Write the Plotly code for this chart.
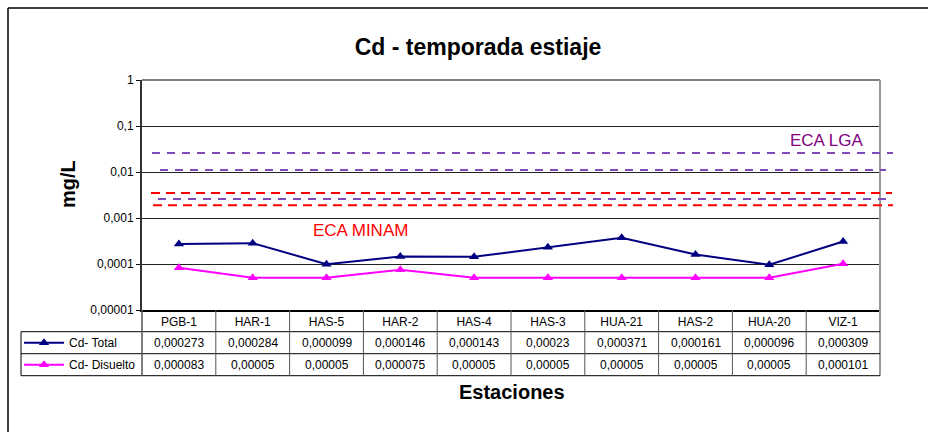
import plotly.graph_objects as go

W, H = 928, 432

estaciones = ["PGB-1", "HAR-1", "HAS-5", "HAR-2", "HAS-4", "HAS-3", "HUA-21", "HAS-2", "HUA-20", "VIZ-1"]
cd_total = [0.000273, 0.000284, 0.000099, 0.000146, 0.000143, 0.00023, 0.000371, 0.000161, 0.000096, 0.000309]
cd_disuelto = [0.000083, 0.00005, 0.00005, 0.000075, 0.00005, 0.00005, 0.00005, 0.00005, 0.00005, 0.000101]

y_tickvals = [0.00001, 0.0001, 0.001, 0.01, 0.1, 1]
y_ticktext = ["0,00001", "0,0001", "0,001", "0,01", "0,1", "1"]

# reference (ECA) lines as drawn on the chart
eca_lga = [0.026, 0.011, 0.0026]
eca_minam = [0.0035, 0.0019]

FONT = "Arial, Liberation Sans, sans-serif"
PURPLE = "#7E4BB8"
RED = "#FF0000"


def px(x):
    return x / W


def py(y):
    return 1 - y / H


def fmt(v):
    return ("%.6f" % v).rstrip("0").replace(".", ",")


def label(x, y, text, size, color="black", xref="paper", **kw):
    return dict(x=x, y=y, xref=xref, yref="paper", text=text, showarrow=False,
                xanchor="center", yanchor="middle", font=dict(size=size, color=color), **kw)


def hline(xa, xb, y, color="black", width=1):
    return dict(type="line", xref="paper", yref="paper", x0=px(xa), x1=px(xb), y0=py(y), y1=py(y),
                line=dict(color=color, width=width))


def vline(x, ya, yb, color="black", width=1):
    return dict(type="line", xref="paper", yref="paper", x0=px(x), x1=px(x), y0=py(ya), y1=py(yb),
                line=dict(color=color, width=width))


fig = go.Figure()

fig.add_trace(go.Scatter(
    x=estaciones, y=cd_total, name="Cd- Total", mode="lines+markers",
    line=dict(color="#000080", width=2),
    marker=dict(symbol="triangle-up", size=9, color="#000080"),
    legend="legend",
))
fig.add_trace(go.Scatter(
    x=estaciones, y=cd_disuelto, name="Cd- Disuelto", mode="lines+markers",
    line=dict(color="#FF00FF", width=2),
    marker=dict(symbol="triangle-up", size=9, color="#FF00FF"),
    legend="legend2",
))

x0, x1 = 142, 880
y_top, y_bot = 80, 310
rows = [310, 331.7, 353.7, 375.7]

shapes = [
    # outer chart border (top and left edges visible)
    hline(8, W, 8, width=1.5),
    vline(8, 8, H, width=1.5),
    # plot area top and right edges
    hline(x0, x1, y_top, color="#555555", width=1.5),
    vline(x1, y_top, rows[-1], color="#999999", width=2),
]

# dashed ECA lines
lga_span = [(152, 893), (160, 886), (158, 891)]
minam_span = [(151, 892), (153, 893)]
for v, (a, b) in zip(eca_lga, lga_span):
    shapes.append(dict(type="line", xref="paper", yref="y", x0=px(a), x1=px(b), y0=v, y1=v,
                       line=dict(color=PURPLE, width=2, dash="8px,7px")))
for v, (a, b) in zip(eca_minam, minam_span):
    shapes.append(dict(type="line", xref="paper", yref="y", x0=px(a), x1=px(b), y0=v, y1=v,
                       line=dict(color=RED, width=2, dash="9px,6px")))

# data table grid
for r in rows[1:]:
    shapes.append(hline(21, x1, r))
shapes.append(vline(21, rows[1], rows[-1]))
shapes.append(vline(x0, rows[0], rows[-1], color="#555555", width=1.5))
for i in range(1, len(estaciones)):
    shapes.append(dict(type="line", xref="x", yref="paper", x0=i - 0.5, x1=i - 0.5, y0=py(rows[0]), y1=py(rows[-1]),
                       line=dict(color="#555555", width=1)))

annotations = []
for i, est in enumerate(estaciones):
    annotations.append(label(est, py((rows[1] + rows[2]) / 2), fmt(cd_total[i]), 12, xref="x"))
    annotations.append(label(est, py((rows[2] + rows[3]) / 2), fmt(cd_disuelto[i]), 12, xref="x"))

annotations += [
    label(px(68), py(184), "<b>mg/L</b>", 20, textangle=-90),
    label(px(512), py(392), "<b>Estaciones</b>", 20),
    label(px(826), py(140), "ECA LGA", 17, color="#800080"),
    label(px(360), py(230), "ECA MINAM", 17, color=RED),
]

legend_style = dict(x=px(19), xanchor="left", yanchor="middle", itemwidth=40,
                    bgcolor="rgba(0,0,0,0)", font=dict(size=12), borderwidth=0)

fig.update_layout(
    width=W, height=H,
    margin=dict(l=0, r=0, t=0, b=0, autoexpand=False),
    paper_bgcolor="white", plot_bgcolor="white",
    font=dict(family=FONT, size=12, color="black"),
    showlegend=True,
    title=dict(text="<b>Cd - temporada estiaje</b>", x=px(478), xanchor="center",
               y=py(47), yanchor="middle", font=dict(size=23)),
    xaxis=dict(domain=[px(x0), px(x1)], type="category", range=[-0.5, 9.5],
               showline=True, linecolor="black", linewidth=1.5, showgrid=False,
               ticks="", tickfont=dict(size=12), automargin=False),
    yaxis=dict(domain=[py(y_bot), py(y_top)], type="log", range=[-5, 0],
               tickvals=y_tickvals, ticktext=y_ticktext,
               showline=True, linecolor="#333333", linewidth=2,
               showgrid=True, gridcolor="#222222", gridwidth=1,
               ticks="outside", ticklen=4, tickcolor="black", tickfont=dict(size=12),
               zeroline=False, automargin=False),
    legend=dict(legend_style, y=py((rows[1] + rows[2]) / 2)),
    legend2=dict(legend_style, y=py((rows[2] + rows[3]) / 2)),
    shapes=shapes,
    annotations=annotations,
)

fig.write_html("out.html", config={"displayModeBar": False},
               post_script="document.body.style.margin='0';")
